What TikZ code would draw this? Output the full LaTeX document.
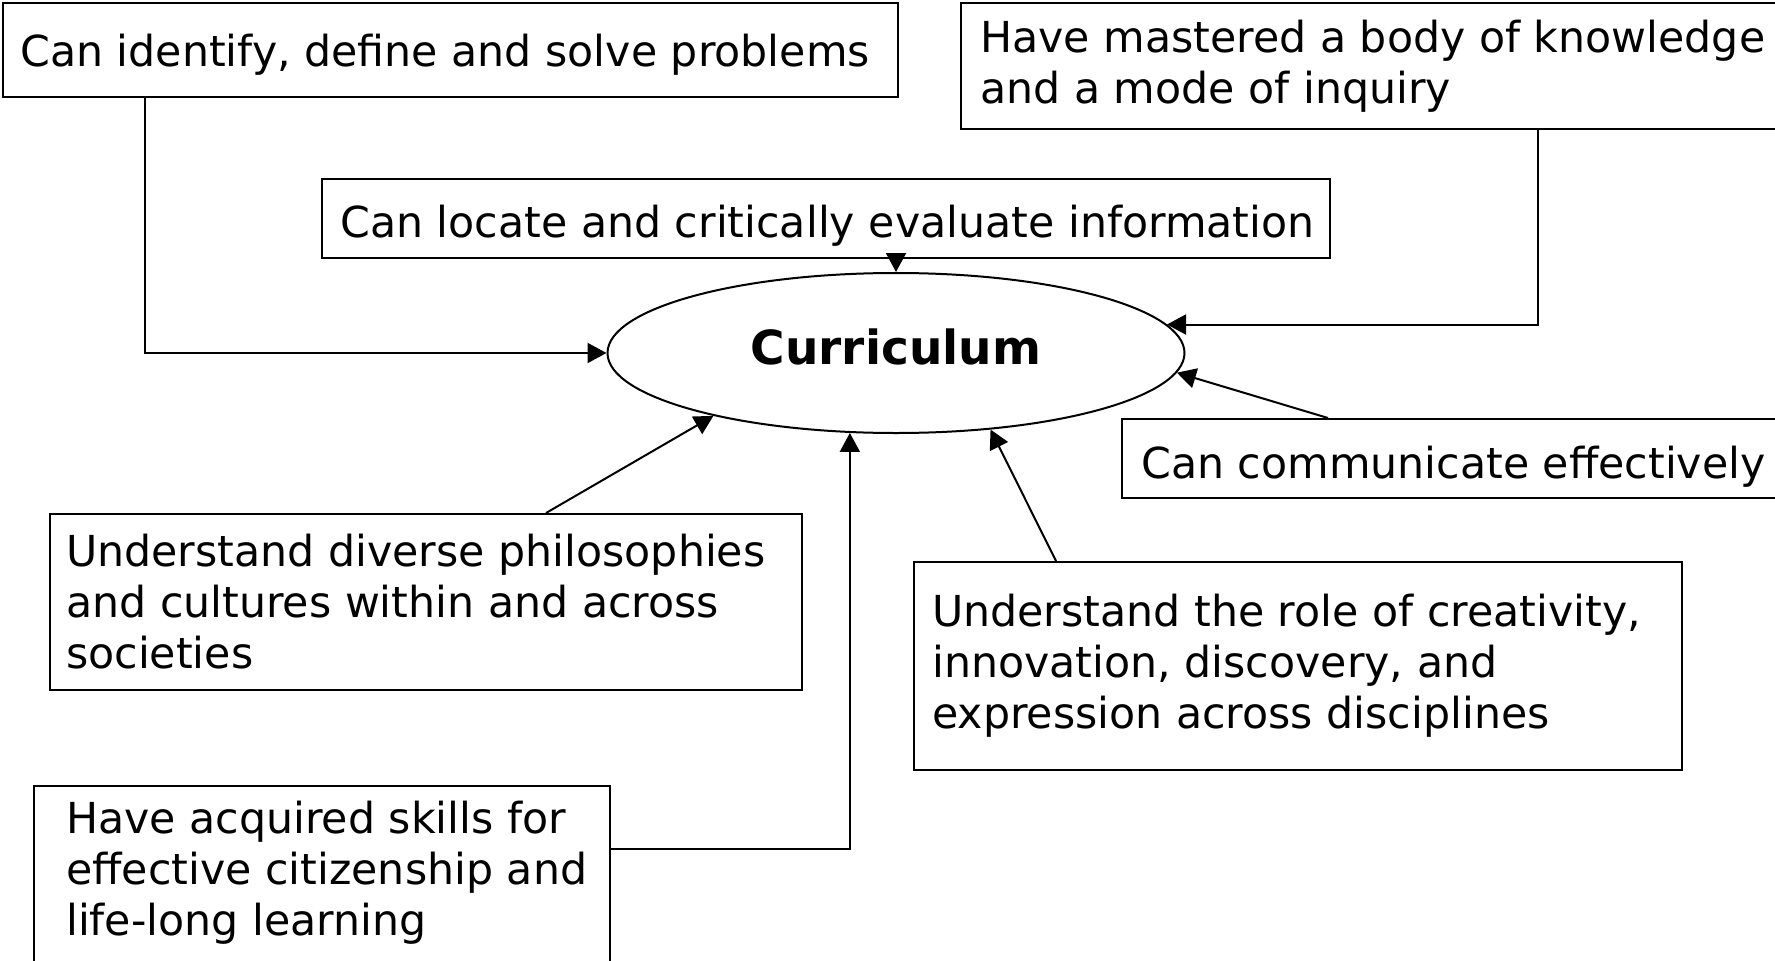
\documentclass[tikz,border=0pt]{standalone}
\usepackage{fontspec}
\setmainfont{DejaVu Sans}
\usetikzlibrary{shapes.geometric,arrows.meta}
\begin{document}
\begin{tikzpicture}[x=1pt,y=-1pt,
  box/.style={draw, line width=2pt, rectangle, inner sep=0pt, anchor=north west},
  txt/.style={anchor=west, inner sep=0pt, align=left, font=\fontsize{42.7}{51}\selectfont},
  arr/.style={line width=2pt, -{Triangle[length=19pt,width=20pt]}}]
\useasboundingbox (0,0) rectangle (1775,961);
\clip (0,0) rectangle (1775,961);
% central ellipse
\node[draw, ellipse, line width=2pt, inner sep=0pt, minimum width=577pt, minimum height=160pt] (cur) at (896,353) {};
\node[anchor=base, inner sep=0pt, font=\bfseries\fontsize{47}{56}\selectfont] (curtxt) at ([yshift=-11.5pt]cur.center) {Curriculum};
% boxes
\node[box, minimum width=895pt, minimum height=94pt] (b1) at (2,2) {};
\node[txt] (t1) at ([xshift=18pt,yshift=-5pt]b1.west) {Can identify, define and solve problems};
\node[box, minimum width=818pt, minimum height=126pt] (b2) at (960,2) {};
\node[txt] (t2) at ([xshift=20pt]b2.west) {Have mastered a body of knowledge\\and a mode of inquiry};
\node[box, minimum width=1008pt, minimum height=79pt] (b3) at (321,178) {};
\node[txt] (t3) at ([xshift=19pt,yshift=-7pt]b3.west) {Can locate and critically evaluate information};
\node[box, minimum width=657pt, minimum height=79pt] (b4) at (1121,418) {};
\node[txt] (t4) at ([xshift=20pt,yshift=-8pt]b4.west) {Can communicate effectively};
\node[box, minimum width=752pt, minimum height=176pt] (b5) at (49,513) {};
\node[txt] (t5) at ([xshift=17pt]b5.west) {Understand diverse philosophies\\and cultures within and across\\societies};
\node[box, minimum width=768pt, minimum height=208pt] (b6) at (913,561) {};
\node[txt] (t6) at ([xshift=19pt]b6.west) {Understand the role of creativity,\\innovation, discovery, and\\expression across disciplines};
\node[box, minimum width=576pt, minimum height=180pt] (b7) at (33,785) {};
\node[txt] (t7) at ([xshift=33pt,yshift=3.5pt]b7.west) {Have acquired skills for\\effective citizenship and\\life-long learning};
% connectors
\draw[arr] ([xshift=143pt]b1.south west) |- (cur.west);
\draw[arr] ([xshift=578pt]b2.south west) |- (cur.6);
\draw[arr] (cur.north |- b3.south) -- (cur.north);
\draw[arr] ([xshift=207pt]b4.north west) -- (cur.-4);
\draw[arr] ([xshift=497pt]b5.north west) -- (cur.199);
\draw[arr] ([xshift=143pt]b6.north west) -- (cur.-39);
\draw[arr] ([yshift=-64pt]b7.north east) -| (cur.240);
\end{tikzpicture}
\end{document}
